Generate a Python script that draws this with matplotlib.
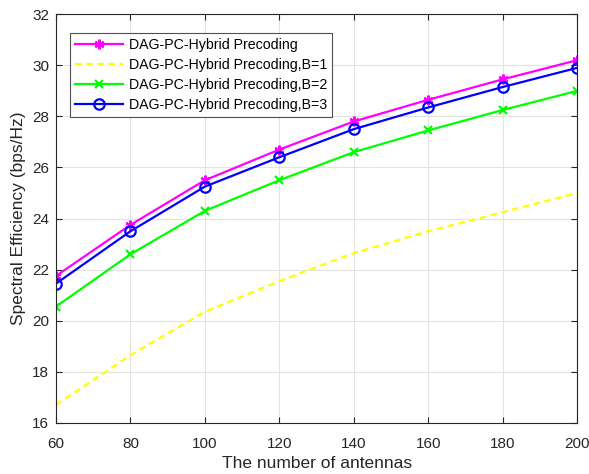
import numpy as np
import matplotlib
matplotlib.use('Agg')
import matplotlib.pyplot as plt

plt.rcParams['font.family'] = ['Liberation Sans', 'DejaVu Sans']

antennas = [60, 80, 100, 120, 140, 160, 180, 200]
se_hybrid = [21.75, 23.75, 25.5, 26.7, 27.8, 28.65, 29.45, 30.2]
se_b1 = [16.7, 18.65, 20.35, 21.55, 22.65, 23.5, 24.25, 25.0]
se_b2 = [20.55, 22.6, 24.3, 25.5, 26.6, 27.45, 28.25, 29.0]
se_b3 = [21.45, 23.5, 25.25, 26.4, 27.5, 28.35, 29.15, 29.9]

fig = plt.figure(figsize=(5.89, 4.74), dpi=100)
ax = fig.add_axes([0.095, 0.108, 0.885, 0.862])

ax.plot(antennas, se_hybrid, color='#ff00ff', lw=1.6, marker=(6, 2, 0), ms=7, mew=1.6,
        label='DAG-PC-Hybrid Precoding')
ax.plot(antennas, se_b1, color='#ffff00', lw=1.6, ls=(0, (3, 2)),
        label='DAG-PC-Hybrid Precoding,B=1')
ax.plot(antennas, se_b2, color='#00ff00', lw=1.6, marker='x', ms=5.5, mew=1.6,
        label='DAG-PC-Hybrid Precoding,B=2')
ax.plot(antennas, se_b3, color='#0000ff', lw=1.6, marker='o', ms=7.5, mew=1.6,
        mfc='none', label='DAG-PC-Hybrid Precoding,B=3')

ax.set_xlim(60, 200)
ax.set_ylim(16, 32)
ax.set_xticks(np.arange(60, 201, 20))
ax.set_yticks(np.arange(16, 33, 2))
ax.grid(True, color='#e3e3e3', lw=0.8)
ax.set_axisbelow(True)
ax.tick_params(direction='in', top=True, right=True, labelsize=11, colors='#262626',
               length=4)
ax.tick_params(axis='x', pad=10)
ax.tick_params(axis='y', pad=5)
for s in ax.spines.values():
    s.set_color('#262626')
    s.set_linewidth(0.8)

ax.set_xlabel('The number of antennas', fontsize=12.5, color='#262626')
ax.set_ylabel('Spectral Efficiency (bps/Hz)', fontsize=12.5, color='#262626')

leg = ax.legend(loc='upper left', bbox_to_anchor=(0.027, 0.9535), fontsize=10.2,
                frameon=True, fancybox=False, edgecolor='#262626', handlelength=3.4,
                borderpad=0.35, labelspacing=0.42, handletextpad=0.4, borderaxespad=0)
leg.get_frame().set_linewidth(0.8)

fig.savefig('out.png', dpi=100)
